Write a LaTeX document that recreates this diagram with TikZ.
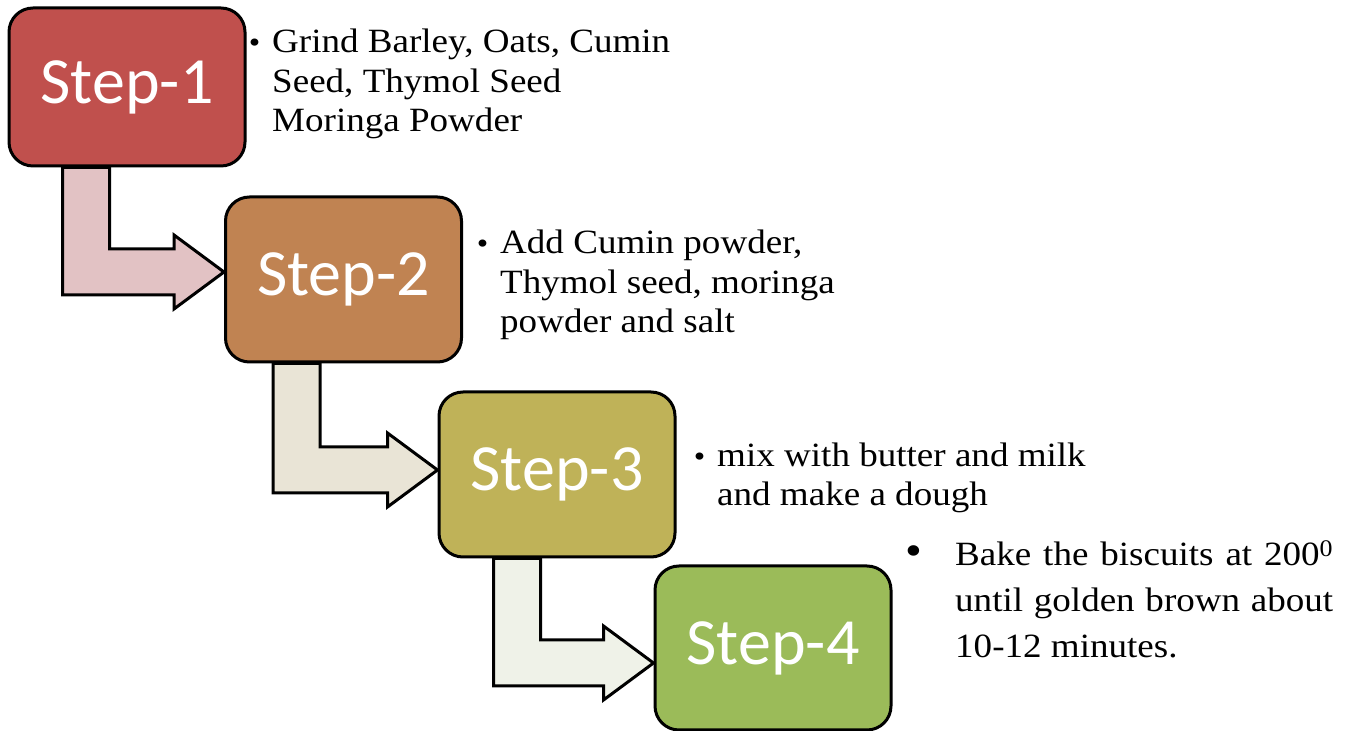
\documentclass[tikz,border=0pt]{standalone}
\usepackage{fontspec}
\setmainfont[FakeStretch=1.09]{Liberation Serif}
\newfontfamily\calib{Carlito}
\usetikzlibrary{calc}
\definecolor{cA}{HTML}{C0504D}
\definecolor{cB}{HTML}{C08352}
\definecolor{cC}{HTML}{BFB258}
\definecolor{cD}{HTML}{9BBB59}
\definecolor{aA}{HTML}{E2C2C4}
\definecolor{aB}{HTML}{E9E4D6}
\definecolor{aC}{HTML}{EFF2E8}
\tikzset{
  stepbox/.style={draw=black, line width=3pt, rounded corners=24pt, minimum width=236pt, minimum height=160pt, inner sep=0pt, text=white, font=\calib\fontsize{66}{70}\selectfont},
  bentarrow/.style={draw=black, line width=3pt, line join=miter},
  desc/.style={anchor=base west, align=left, inner sep=0pt, font=\fontsize{34}{39.5}\selectfont},
}
\newcommand\mybent[5]{%
  \draw[bentarrow, fill=#1] let \p1=(#2.south west), \p2=(#3.west) in
    (\x1+#4pt,\y1) -- (\x1+#4pt,\y2+#5pt-23pt) -- (\x2-50pt,\y2+#5pt-23pt) -- (\x2-50pt,\y2+#5pt-37pt)
    -- (\x2,\y2+#5pt) -- (\x2-50pt,\y2+#5pt+37pt) -- (\x2-50pt,\y2+#5pt+23pt)
    -- (\x1+#4pt+47pt,\y2+#5pt+23pt) -- (\x1+#4pt+47pt,\y1) -- cycle;}
\newcommand\smbul{\llap{\fontsize{30}{30}\selectfont •\hspace{12pt}}}
\begin{document}
\begin{tikzpicture}[x=1pt,y=1pt]
\useasboundingbox (0,0) rectangle (1350,731);
% nodes (positions only, drawn later on top)
\path (127,644) node[stepbox, minimum height=158pt, draw=none, fill=none, text opacity=0] (s1) {Step-1};
\path (343.5,451.5) node[stepbox, minimum height=165pt, draw=none, fill=none, text opacity=0] (s2) {Step-2};
\path (557,256.5) node[stepbox, minimum height=165pt, draw=none, fill=none, text opacity=0] (s3) {Step-3};
\path (773,83) node[stepbox, minimum height=164pt, draw=none, fill=none, text opacity=0] (s4) {Step-4};
% connectors
\mybent{aA}{s1}{s2}{55}{7.5}
\mybent{aB}{s2}{s3}{49}{4.5}
\mybent{aC}{s3}{s4}{56}{-15}
% boxes
\node[stepbox, fill=cA, minimum height=158pt] at (s1) {Step-1};
\node[stepbox, fill=cB, minimum height=165pt] at (s2) {Step-2};
\node[stepbox, fill=cC, minimum height=165pt] at (s3) {Step-3};
\node[stepbox, fill=cD, minimum height=164pt] at (s4) {Step-4};
% descriptions (anchored at the baseline of the last line)
\node[desc] (t1) at (272,599) {\smbul Grind Barley, Oats, Cumin\\Seed, Thymol Seed\\Moringa Powder};
\node[desc] (t2) at (500,398) {\smbul Add Cumin powder,\\Thymol seed, moringa\\powder and salt};
\node[desc] (t3) at (717,225) {\smbul mix with butter and milk\\and make a dough};
\node[desc, font=\fontsize{34}{46}\selectfont] (t4) at (955,73) {\llap{\fontsize{44}{44}\selectfont •\hspace{33pt}}\makebox[378pt][s]{Bake the biscuits at 200\textsuperscript{0}}\\\makebox[378pt][s]{until golden brown about}\\10-12 minutes.};
\end{tikzpicture}
\end{document}
